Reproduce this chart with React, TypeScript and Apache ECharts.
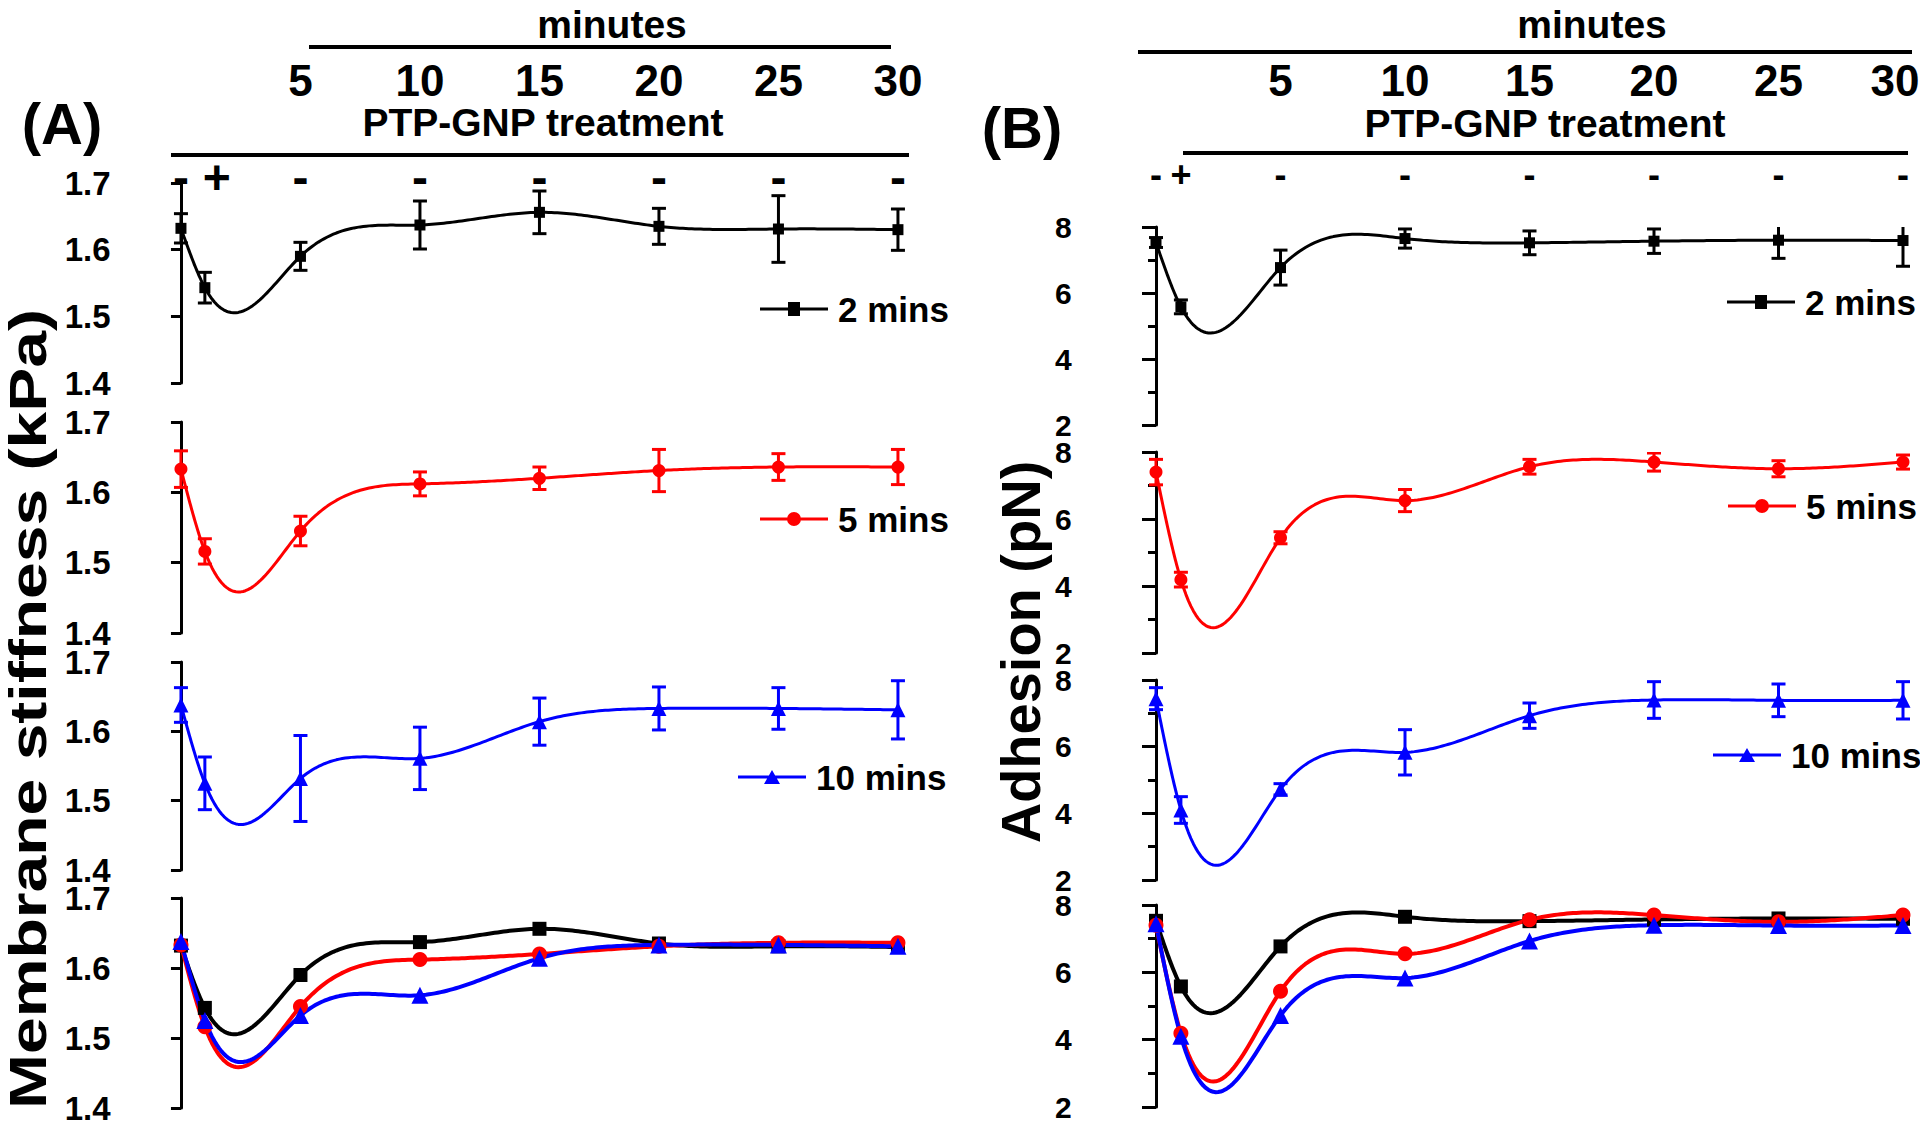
import React, { useEffect, useRef } from 'react';
import * as echarts from 'echarts';

// ---------------- data ----------------
const minutes = [0, 1, 5, 10, 15, 20, 25, 30];
const topTickMinutes = [5, 10, 15, 20, 25, 30];
const treatmentMarks = ['-', '+', '-', '-', '-', '-', '-', '-'];
const seriesNames = ['2 mins', '5 mins', '10 mins'];

const stiff2 = [1.632, 1.543, 1.59, 1.637, 1.656, 1.635, 1.631, 1.63];
const stiff2Err = [0.022, 0.023, 0.021, 0.036, 0.032, 0.027, 0.05, 0.031];
const stiff5 = [1.633, 1.516, 1.545, 1.612, 1.62, 1.631, 1.636, 1.636];
const stiff5Err = [0.026, 0.018, 0.021, 0.017, 0.016, 0.03, 0.019, 0.025];
const stiff10 = [1.638, 1.525, 1.532, 1.561, 1.614, 1.633, 1.633, 1.631];
const stiff10Err = [0.025, 0.038, 0.062, 0.045, 0.034, 0.031, 0.03, 0.042];

const adh2 = [7.53, 5.58, 6.77, 7.65, 7.52, 7.57, 7.6, 7.59];
const adh2Err = [0.15, 0.21, 0.53, 0.29, 0.36, 0.37, 0.55, 0.78];
const adh5 = [7.4, 4.19, 5.44, 6.55, 7.56, 7.7, 7.5, 7.7];
const adh5Err = [0.38, 0.22, 0.18, 0.33, 0.22, 0.27, 0.24, 0.21];
const adh10 = [7.44, 4.1, 4.72, 5.83, 6.93, 7.4, 7.39, 7.39];
const adh10Err = [0.33, 0.4, 0.17, 0.68, 0.38, 0.55, 0.49, 0.56];

const stiffAxis = { min: 1.4, max: 1.7, interval: 0.1 };
const adhAxis = { min: 2, max: 8, interval: 2 };

// ---------------- styling / layout ----------------
const SANS = '"Liberation Sans", Arial, Helvetica, sans-serif';
const colors = ['#000000', '#ff0000', '#0000ff'];
const symbols = ['rect', 'circle', 'triangle'];
const symbolSizes = [11, 13, 15];
const symbolSizesBig = [14, 15, 17];
const legendIcons = [
  'path://M0,5.5H68V8.5H0Z M28,0H40V14H28Z',
  'path://M0,5.5H68V8.5H0Z M41,7A7,7,0,1,1,27,7A7,7,0,1,1,41,7Z',
  'path://M0,5.5H68V8.5H0Z M34,0L42,14H26Z',
];

const panels = [
  {
    ys: [stiff2, stiff5, stiff10],
    errs: [stiff2Err, stiff5Err, stiff10Err],
    yAxis: stiffAxis,
    decimals: 1,
    xMin: -2.4,
    xMax: 30.5,
    left: 123.6,
    width: 786.3,
    tops: [183, 422, 662, 898],
    heights: [200, 211, 208, 210],
    labelSize: 33,
    labelLineHeight: 25,
    labelMargin: 13,
    tickLen: 10,
    minor: false,
    legendLeft: [760, 760, 738],
    legendCenter: [309, 519, 777],
    marksMargin: 6,
    marksSize: 48,
    plusPad: 24,
    numbersMargin: 103,
    lastNumberPad: 0,
  },
  {
    ys: [adh2, adh5, adh10],
    errs: [adh2Err, adh5Err, adh10Err],
    yAxis: adhAxis,
    decimals: 0,
    xMin: -2.5,
    xMax: 30.5,
    left: 1093.75,
    width: 821.7,
    tops: [227, 452, 680, 905],
    heights: [198, 201, 200, 202],
    labelSize: 30,
    labelLineHeight: 22,
    labelMargin: 22,
    tickLen: 14,
    minor: true,
    legendLeft: [1727, 1728, 1713],
    legendCenter: [302, 506, 755],
    marksMargin: 53,
    marksSize: 36,
    plusPad: 0,
    numbersMargin: 147,
    lastNumberPad: 16,
  },
];

// natural cubic spline second derivatives
function splineM(xs: number[], ys: number[]): number[] {
  const n = xs.length;
  const a = new Array(n).fill(0);
  const b = new Array(n).fill(1);
  const c = new Array(n).fill(0);
  const d = new Array(n).fill(0);
  for (let i = 1; i < n - 1; i++) {
    const h0 = xs[i] - xs[i - 1];
    const h1 = xs[i + 1] - xs[i];
    a[i] = h0;
    b[i] = 2 * (h0 + h1);
    c[i] = h1;
    d[i] = 6 * ((ys[i + 1] - ys[i]) / h1 - (ys[i] - ys[i - 1]) / h0);
  }
  for (let i = 1; i < n; i++) {
    const w = a[i] / b[i - 1];
    b[i] -= w * c[i - 1];
    d[i] -= w * d[i - 1];
  }
  const M = new Array(n).fill(0);
  M[n - 1] = d[n - 1] / b[n - 1];
  for (let i = n - 2; i >= 0; i--) M[i] = (d[i] - c[i] * M[i + 1]) / b[i];
  return M;
}

function splineAt(xs: number[], ys: number[], M: number[], i: number, x: number): number {
  const h = xs[i + 1] - xs[i];
  const A = xs[i + 1] - x;
  const B = x - xs[i];
  return (
    (M[i] * A * A * A) / (6 * h) +
    (M[i + 1] * B * B * B) / (6 * h) +
    (ys[i] / h - (M[i] * h) / 6) * A +
    (ys[i + 1] / h - (M[i + 1] * h) / 6) * B
  );
}

function splineSeries(xs: number[], ys: number[], g: number, color: string, width: number, id: string) {
  const M = splineM(xs, ys);
  return {
    type: 'custom',
    id,
    xAxisIndex: g,
    yAxisIndex: g,
    clip: true,
    silent: true,
    data: xs.map((x, i) => [x, ys[i]]),
    renderItem: (params: any, api: any) => {
      const i = params.dataIndex;
      if (i >= xs.length - 1) return { type: 'group', children: [] };
      const pts: number[][] = [];
      const N = 40;
      for (let k = 0; k <= N; k++) {
        const x = xs[i] + ((xs[i + 1] - xs[i]) * k) / N;
        pts.push(api.coord([x, splineAt(xs, ys, M, i, x)]));
      }
      return {
        type: 'polyline',
        shape: { points: pts },
        style: { stroke: color, lineWidth: width, fill: null, lineJoin: 'round', lineCap: 'round' },
      };
    },
  };
}

function errorSeries(xs: number[], ys: number[], errs: number[], g: number, color: string, id: string) {
  return {
    type: 'custom',
    id,
    xAxisIndex: g,
    yAxisIndex: g,
    clip: true,
    silent: true,
    data: xs.map((x, i) => [x, ys[i], errs[i]]),
    encode: { x: 0, y: 1 },
    renderItem: (params: any, api: any) => {
      const x = api.value(0);
      const y = api.value(1);
      const e = api.value(2);
      const hi = api.coord([x, y + e]);
      const lo = api.coord([x, y - e]);
      const cw = 7;
      const st = { stroke: color, lineWidth: 3 };
      return {
        type: 'group',
        children: [
          { type: 'line', shape: { x1: hi[0], y1: hi[1], x2: lo[0], y2: lo[1] }, style: st },
          { type: 'line', shape: { x1: hi[0] - cw, y1: hi[1], x2: hi[0] + cw, y2: hi[1] }, style: st },
          { type: 'line', shape: { x1: lo[0] - cw, y1: lo[1], x2: lo[0] + cw, y2: lo[1] }, style: st },
        ],
      };
    },
  };
}

function markerSeries(xs: number[], ys: number[], g: number, k: number, size: number) {
  return {
    type: 'scatter',
    name: seriesNames[k],
    xAxisIndex: g,
    yAxisIndex: g,
    symbol: symbols[k],
    symbolSize: size,
    itemStyle: { color: colors[k], opacity: 1 },
    data: xs.map((x, i) => [x, ys[i]]),
    z: 5,
  };
}

function buildOption() {
  const grid: any[] = [];
  const xAxis: any[] = [];
  const topAxes: any[] = [];
  const yAxis: any[] = [];
  const series: any[] = [];
  const legend: any[] = [];

  panels.forEach((p, pi) => {
    for (let s = 0; s < 4; s++) {
      const g = pi * 4 + s;
      grid.push({
        left: p.left,
        top: p.tops[s],
        width: p.width,
        height: p.heights[s],
        containLabel: false,
        outerBoundsMode: 'none',
      });
      xAxis.push({
        gridIndex: g,
        type: 'value',
        min: p.xMin,
        max: p.xMax,
        show: false,
      });
      yAxis.push({
        gridIndex: g,
        type: 'value',
        min: p.yAxis.min,
        max: p.yAxis.max,
        interval: p.yAxis.interval,
        axisLine: { show: true, lineStyle: { color: '#000', width: 3 } },
        axisTick: { show: true, inside: false, length: p.tickLen, lineStyle: { color: '#000', width: 3 } },
        minorTick: { show: p.minor, splitNumber: 2, length: 8, lineStyle: { color: '#000', width: 3 } },
        splitLine: { show: false },
        minorSplitLine: { show: false },
        axisLabel: {
          margin: p.labelMargin,
          fontSize: p.labelSize,
          lineHeight: p.labelLineHeight,
          fontWeight: 'bold',
          fontFamily: SANS,
          color: '#000',
          formatter: (v: number) => v.toFixed(p.decimals),
        },
      });
      if (s < 3) {
        series.push(splineSeries(minutes, p.ys[s], g, colors[s], 3, `spl-${g}`));
        series.push(errorSeries(minutes, p.ys[s], p.errs[s], g, colors[s], `err-${g}`));
        series.push(markerSeries(minutes, p.ys[s], g, s, symbolSizes[s]));
        legend.push({
          data: [{ name: seriesNames[s], icon: legendIcons[s] }],
          left: p.legendLeft[s],
          top: p.legendCenter[s] - 18,
          padding: 0,
          itemWidth: 68,
          itemHeight: 14,
          selectedMode: false,
          textStyle: {
            fontFamily: SANS,
            fontSize: 35,
            lineHeight: 36,
            fontWeight: 'bold',
            color: '#000',
            padding: [0, 0, 0, 5],
          },
        });
      } else {
        for (let k = 0; k < 3; k++) {
          series.push(splineSeries(minutes, p.ys[k], g, colors[k], 4, `spl-${g}-${k}`));
          series.push(markerSeries(minutes, p.ys[k], g, k, symbolSizesBig[k]));
        }
      }
    }
    // top annotation axes on the first grid of each panel
    const g0 = pi * 4;
    const lastTick = topTickMinutes[topTickMinutes.length - 1];
    topAxes.push({
      gridIndex: g0,
      type: 'value',
      position: 'top',
      min: p.xMin,
      max: p.xMax,
      axisLine: { show: false },
      axisTick: { show: false },
      splitLine: { show: false },
      axisLabel: {
        customValues: topTickMinutes,
        margin: p.numbersMargin,
        verticalAlign: 'middle',
        fontSize: 44,
        fontWeight: 'bold',
        fontFamily: SANS,
        color: '#000',
        formatter: (v: number) => (v === lastTick && p.lastNumberPad ? `{e|${v}}` : String(v)),
        rich: {
          e: {
            fontSize: 44,
            fontWeight: 'bold',
            fontFamily: SANS,
            color: '#000',
            padding: [0, p.lastNumberPad, 0, 0],
          },
        },
      },
    });
    topAxes.push({
      gridIndex: g0,
      type: 'value',
      position: 'top',
      min: p.xMin,
      max: p.xMax,
      axisLine: { show: false },
      axisTick: { show: false },
      splitLine: { show: false },
      axisLabel: {
        customValues: minutes,
        margin: p.marksMargin,
        verticalAlign: 'middle',
        fontSize: p.marksSize,
        fontWeight: 'bold',
        fontFamily: SANS,
        color: '#000',
        formatter: (v: number) => {
          const idx = minutes.indexOf(v);
          const m = idx >= 0 ? treatmentMarks[idx] : '';
          return m === '+' ? `{plus|${m}}` : m;
        },
        rich: {
          plus: {
            fontSize: p.marksSize,
            fontWeight: 'bold',
            fontFamily: SANS,
            color: '#000',
            padding: [0, 0, 0, p.plusPad],
          },
        },
      },
    });
  });

  const lineStyle = { stroke: '#000', lineWidth: 4 };
  const txt = (text: string, x: number, y: number, size: number, extra: any = {}) => ({
    type: 'text',
    x,
    y,
    silent: true,
    ...extra,
    style: {
      text,
      fill: '#000',
      fontSize: size,
      fontWeight: 'bold',
      fontFamily: SANS,
      align: 'center',
      verticalAlign: 'middle',
      textAlign: 'center',
      textVerticalAlign: 'middle',
    },
  });

  const graphic = [
    { type: 'line', silent: true, shape: { x1: 309, y1: 47, x2: 891, y2: 47 }, style: lineStyle },
    { type: 'line', silent: true, shape: { x1: 171, y1: 155, x2: 909, y2: 155 }, style: lineStyle },
    { type: 'line', silent: true, shape: { x1: 1138, y1: 52, x2: 1912, y2: 52 }, style: lineStyle },
    { type: 'line', silent: true, shape: { x1: 1183, y1: 153, x2: 1908, y2: 153 }, style: lineStyle },
    txt('minutes', 612, 24, 39),
    txt('minutes', 1592, 24, 39),
    txt('PTP-GNP treatment', 543, 122, 39),
    txt('PTP-GNP treatment', 1545, 123, 39),
    txt('(A)', 62, 123, 58),
    txt('(B)', 1022, 127, 58),
    txt('Membrane stiffness (kPa)', 28, 709, 52, { rotation: Math.PI / 2, scaleX: 1.27 }),
    txt('Adhesion (pN)', 1020, 652, 56, { rotation: Math.PI / 2 }),
  ];

  return {
    animation: false,
    backgroundColor: '#ffffff',
    grid,
    xAxis: xAxis.concat(topAxes),
    yAxis,
    series,
    legend,
    graphic,
  };
}

export default function App() {
  const ref = useRef<HTMLDivElement>(null);
  useEffect(() => {
    document.body.style.margin = '0';
    const chart = echarts.init(ref.current as HTMLDivElement, null, { renderer: 'svg' });
    chart.setOption(buildOption() as any);
    return () => chart.dispose();
  }, []);
  return (
    <div
      ref={ref}
      style={{ position: 'absolute', left: 0, top: 0, width: 1920, height: 1125, background: '#fff' }}
    />
  );
}
